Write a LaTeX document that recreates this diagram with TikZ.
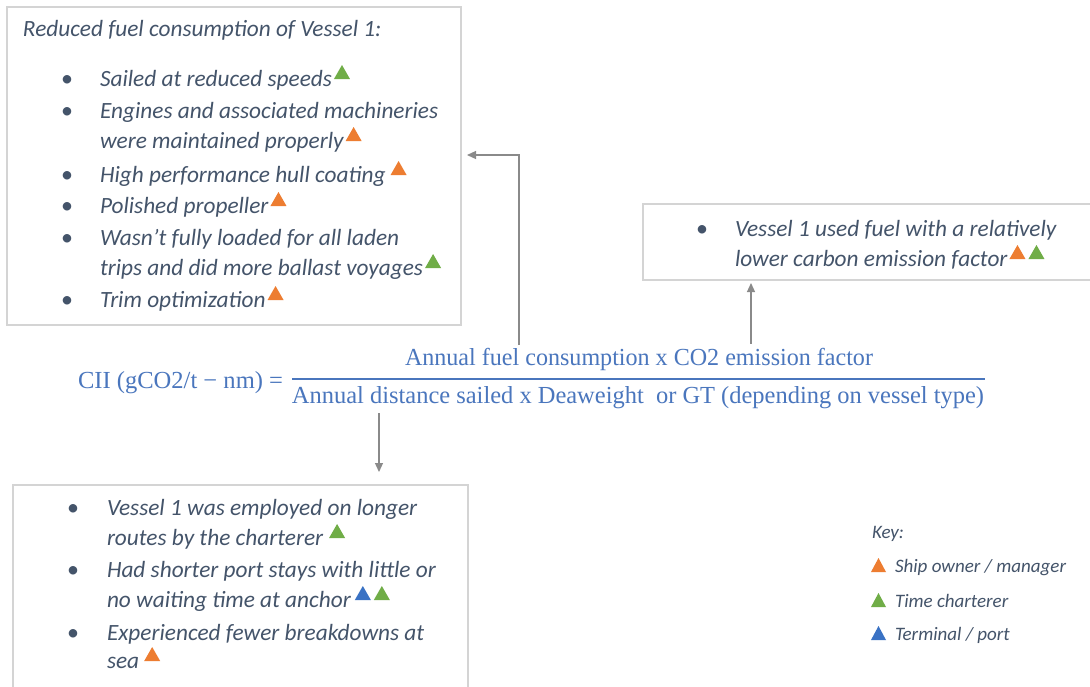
\documentclass[tikz,border=0pt]{standalone}
\usepackage{fontspec}
\setmainfont{Carlito}
\newfontfamily\mathlike{Liberation Serif}
\usepackage{graphicx}
\usetikzlibrary{arrows.meta}
\definecolor{txt}{HTML}{44546A}
\definecolor{frmblue}{HTML}{4A76BD}
\definecolor{boxgray}{HTML}{D4D4D4}
\definecolor{arrgray}{HTML}{8A8A8A}
\definecolor{torange}{HTML}{ED7D31}
\definecolor{tgreen}{HTML}{70AD47}
\definecolor{tblue}{HTML}{3A72C4}
\newcommand\tri[1]{\hspace{2pt}\tikz[baseline={(0pt,-7pt)}]\fill[#1](0pt,0pt)--(16pt,0pt)--(8pt,14pt)--cycle;}
\newcommand\ktri[1]{\tikz[baseline={(0pt,0pt)}]\fill[#1](0pt,0pt)--(15pt,0pt)--(7.5pt,14pt)--cycle;}
\begin{document}
\begin{tikzpicture}[x=1pt,y=1pt,
  every node/.style={inner sep=0pt,outer sep=0pt},
  lbl/.style={anchor=base west,text=txt,font=\fontsize{23.3}{28}\selectfont\itshape},
  bul/.style={anchor=base,text=txt,font=\fontsize{24}{28}\selectfont},
  keylbl/.style={anchor=base west,text=txt,font=\fontsize{19}{23}\selectfont\itshape},
  frm/.style={text=frmblue,font=\fontsize{24.5}{28}\selectfont\mathlike},
  box/.style={draw=boxgray,line width=1.3pt,fill=none},
  conn/.style={draw=arrgray,line width=1.2pt,-{Triangle[length=9pt,width=8pt]}}]
\useasboundingbox[fill=white] (0,0) rectangle (1090,-686);

% boxes
\node[box,minimum width=454pt,minimum height=318pt] (boxA) at (234,-166) {};
\node[box,minimum width=452pt,minimum height=76pt] (boxB) at (869,-242) {};
\node[box,minimum width=455pt,minimum height=207pt] (boxC) at (240.5,-588.5) {};

% box A
\node[lbl] (tA) at (23,-36) {Reduced fuel consumption of Vessel 1:};
\node[bul] (bA1) at (67,-86) {\textbullet};
\node[lbl] (lA1) at (100,-86) {Sailed at reduced speeds\tri{tgreen}};
\node[bul] (bA2) at (67,-118) {\textbullet};
\node[lbl] (lA2) at (100,-118) {Engines and associated machineries};
\node[lbl] (lA3) at (100,-148) {were maintained properly\tri{torange}};
\node[bul] (bA4) at (67,-182) {\textbullet};
\node[lbl] (lA4) at (100,-182) {High performance hull coating\hspace{3pt}\tri{torange}};
\node[bul] (bA5) at (67,-213) {\textbullet};
\node[lbl] (lA5) at (100,-213) {Polished propeller\tri{torange}};
\node[bul] (bA6) at (67,-245) {\textbullet};
\node[lbl] (lA6) at (100,-245) {Wasn’t fully loaded for all laden};
\node[lbl] (lA7) at (100,-275) {trips and did more ballast voyages\tri{tgreen}};
\node[bul] (bA8) at (67,-307) {\textbullet};
\node[lbl] (lA8) at (100,-307) {Trim optimization\tri{torange}};

% box B
\node[bul] (bB1) at (702,-236) {\textbullet};
\node[lbl] (lB1) at (735,-236) {Vessel 1 used fuel with a relatively};
\node[lbl] (lB2) at (735,-266) {lower carbon emission factor\tri{torange}\hspace{1pt}\tri{tgreen}};

% box C
\node[bul] (bC1) at (73,-515) {\textbullet};
\node[lbl] (lC1) at (107,-515) {Vessel 1 was employed on longer};
\node[lbl] (lC2) at (107,-545) {routes by the charterer\hspace{4pt}\tri{tgreen}};
\node[bul] (bC3) at (73,-577) {\textbullet};
\node[lbl] (lC3) at (107,-577) {Had shorter port stays with little or};
\node[lbl] (lC4) at (107,-607) {no waiting time at anchor\hspace{2pt}\tri{tblue}\hspace{1pt}\tri{tgreen}};
\node[bul] (bC5) at (73,-640) {\textbullet};
\node[lbl] (lC5) at (107,-640) {Experienced fewer breakdowns at};
\node[lbl] (lC6) at (107,-668) {sea\hspace{3pt}\tri{torange}};

% formula
\node[frm,anchor=base west] (lhs) at (78,-388) {\resizebox{205pt}{\height}{CII (gCO2/t − nm) =}};
\node[frm,anchor=base] (num) at (639,-365) {\resizebox{468pt}{\height}{Annual fuel consumption x CO2 emission factor}};
\node[frm,anchor=base] (den) at (638,-403) {\resizebox{692pt}{\height}{Annual distance sailed x Deaweight\ \ or GT (depending on vessel type)}};
\draw[frmblue,line width=1.3pt] (292,-379) -- (985,-379);

% key
\node[keylbl] (key) at (872,-538) {Key:};
\node[keylbl] (k1) at (871,-572) {\ktri{torange}\hspace{9pt}Ship owner / manager};
\node[keylbl] (k2) at (871,-607) {\ktri{tgreen}\hspace{9pt}Time charterer};
\node[keylbl] (k3) at (871,-640) {\ktri{tblue}\hspace{9pt}Terminal / port};

% connectors
\coordinate (c1) at (519,-155);
\coordinate (c2) at (751,0);
\coordinate (c3) at (379,0);
\draw[conn,shorten <=3pt,shorten >=6pt] (num.north -| c1) |- (boxA.east |- c1);
\draw[conn,shorten <=4pt,shorten >=3pt] (num.north -| c2) -- (boxB.south -| c2);
\draw[conn,shorten <=5pt,shorten >=13pt] (den.south -| c3) -- (boxC.north -| c3);
\end{tikzpicture}
\end{document}
